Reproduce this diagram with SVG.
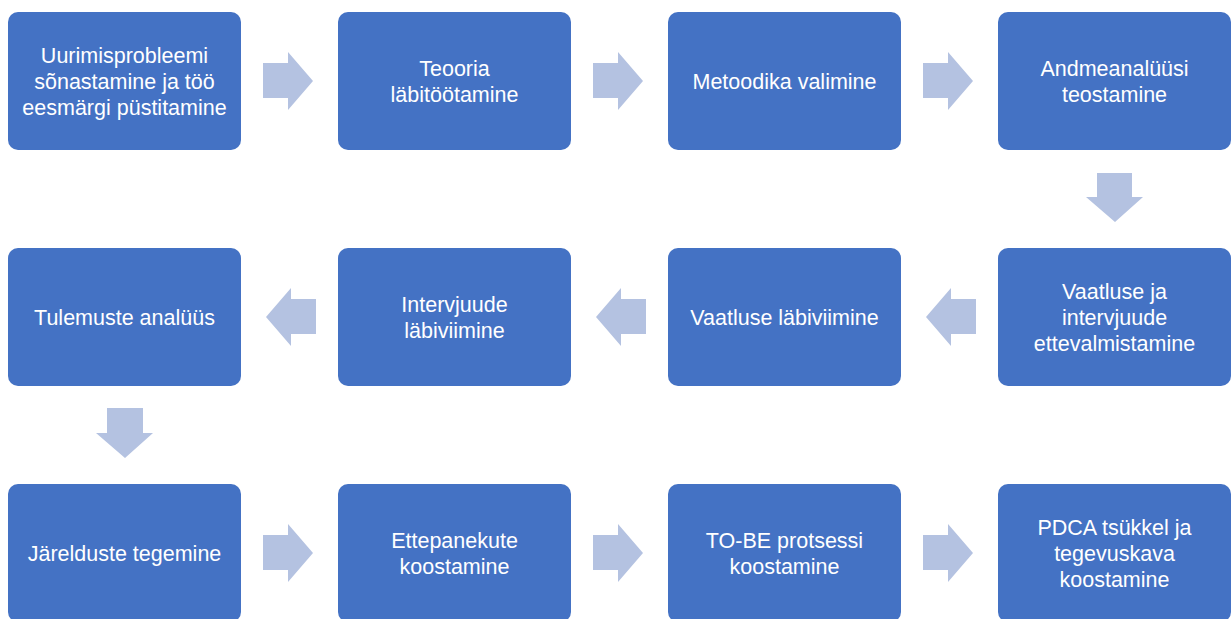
<svg xmlns="http://www.w3.org/2000/svg" width="1231" height="619" viewBox="0 0 1231 619">
<style>
.box{fill:#4472C4;}
.t{font-family:"Liberation Sans",Arial,sans-serif;font-size:21.5px;fill:#FFFFFF;text-anchor:middle;}
.arr{fill:#B4C2E1;}
</style>
<rect width="1231" height="619" fill="#FFFFFF"/>
<g id="connectors">
<polygon class="arr" points="263,63 288,63 288,52 313,81 288,110 288,98 263,98"/>
<polygon class="arr" points="593,63 618,63 618,52 643,81 618,110 618,98 593,98"/>
<polygon class="arr" points="923,63 948,63 948,52 973,81 948,110 948,98 923,98"/>
<polygon class="arr" points="1097,173 1132,173 1132,197 1143,197 1115,222 1086,197 1097,197"/>
<polygon class="arr" points="976,299 951,299 951,288 926,317 951,346 951,334 976,334"/>
<polygon class="arr" points="646,299 621,299 621,288 596,317 621,346 621,334 646,334"/>
<polygon class="arr" points="316,299 291,299 291,288 266,317 291,346 291,334 316,334"/>
<polygon class="arr" points="107,408 143,408 143,433 153,433 125,458 96,433 107,433"/>
<polygon class="arr" points="263,535 288,535 288,524 313,553 288,582 288,570 263,570"/>
<polygon class="arr" points="593,535 618,535 618,524 643,553 618,582 618,570 593,570"/>
<polygon class="arr" points="923,535 948,535 948,524 973,553 948,582 948,570 923,570"/>
</g>
<g id="n1"><rect class="box" x="8" y="12" width="233" height="138" rx="10"/>
<text class="t" x="124.5" y="63">Uurimisprobleemi</text><text class="t" x="124.5" y="89">sõnastamine ja töö</text><text class="t" x="124.5" y="115">eesmärgi püstitamine</text></g>
<g id="n2"><rect class="box" x="338" y="12" width="233" height="138" rx="10"/>
<text class="t" x="454.5" y="76">Teooria</text><text class="t" x="454.5" y="102">läbitöötamine</text></g>
<g id="n3"><rect class="box" x="668" y="12" width="233" height="138" rx="10"/>
<text class="t" x="784.5" y="89">Metoodika valimine</text></g>
<g id="n4"><rect class="box" x="998" y="12" width="233" height="138" rx="10"/>
<text class="t" x="1114.5" y="76">Andmeanalüüsi</text><text class="t" x="1114.5" y="102">teostamine</text></g>
<g id="n5"><rect class="box" x="998" y="248" width="233" height="138" rx="10"/>
<text class="t" x="1114.5" y="299">Vaatluse ja</text><text class="t" x="1114.5" y="325">intervjuude</text><text class="t" x="1114.5" y="351">ettevalmistamine</text></g>
<g id="n6"><rect class="box" x="668" y="248" width="233" height="138" rx="10"/>
<text class="t" x="784.5" y="325">Vaatluse läbiviimine</text></g>
<g id="n7"><rect class="box" x="338" y="248" width="233" height="138" rx="10"/>
<text class="t" x="454.5" y="312">Intervjuude</text><text class="t" x="454.5" y="338">läbiviimine</text></g>
<g id="n8"><rect class="box" x="8" y="248" width="233" height="138" rx="10"/>
<text class="t" x="124.5" y="325">Tulemuste analüüs</text></g>
<g id="n9"><rect class="box" x="8" y="484" width="233" height="138" rx="10"/>
<text class="t" x="124.5" y="561">Järelduste tegemine</text></g>
<g id="n10"><rect class="box" x="338" y="484" width="233" height="138" rx="10"/>
<text class="t" x="454.5" y="548">Ettepanekute</text><text class="t" x="454.5" y="574">koostamine</text></g>
<g id="n11"><rect class="box" x="668" y="484" width="233" height="138" rx="10"/>
<text class="t" x="784.5" y="548">TO-BE protsessi</text><text class="t" x="784.5" y="574">koostamine</text></g>
<g id="n12"><rect class="box" x="998" y="484" width="233" height="138" rx="10"/>
<text class="t" x="1114.5" y="535">PDCA tsükkel ja</text><text class="t" x="1114.5" y="561">tegevuskava</text><text class="t" x="1114.5" y="587">koostamine</text></g>
</svg>
